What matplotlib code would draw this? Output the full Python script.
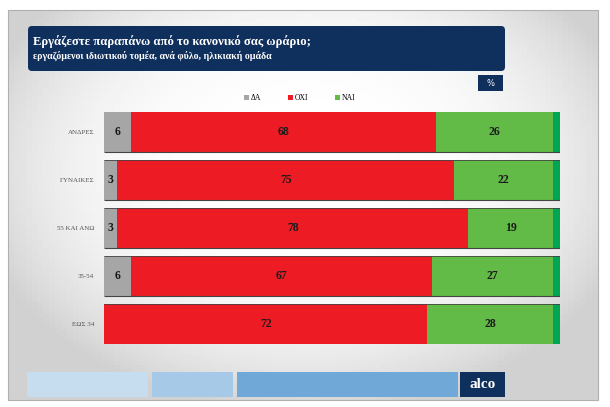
import numpy as np
import matplotlib
matplotlib.use("Agg")
import matplotlib.pyplot as plt
from matplotlib.patches import FancyBboxPatch, Rectangle

# data
groups = ["ΑΝΔΡΕΣ", "ΓΥΝΑΙΚΕΣ", "55 ΚΑΙ ΑΝΩ", "35-54", "ΕΩΣ 34"]
da = [6, 3, 3, 6, 0]
oxi = [68, 75, 78, 67, 72]
nai = [26, 22, 19, 27, 28]
series_names = ["ΔΑ", "ΟΧΙ", "ΝΑΙ"]
title = "Εργάζεστε παραπάνω από το κανονικό σας ωράριο;"
subtitle = "εργαζόμενοι ιδιωτικού τομέα, ανά φύλο, ηλικιακή ομάδα"

c_da = "#a6a6a6"
c_oxi = "#ed1c24"
c_nai = "#62bb46"
c_strip = "#00a651"
navy = "#0f2f5c"

W, H = 610, 407
fig = plt.figure(figsize=(W / 100, H / 100), dpi=100)
fig.patch.set_facecolor("white")

# background slide (pixel coordinates)
bg = fig.add_axes([0, 0, 1, 1])
bg.set_xlim(0, W)
bg.set_ylim(H, 0)
bg.axis("off")
yy, xx = np.mgrid[0:100, 0:100]
r = np.hypot((xx - 50) / 50, (yy - 40) / 55)
grad = np.clip(1 - 0.12 * r ** 3, 0.82, 1)
bg.imshow(grad, cmap="gray", vmin=0, vmax=1, extent=(8, 598, 400, 10),
          aspect="auto", zorder=0)
bg.add_patch(Rectangle((8, 10), 590, 390, fill=False, ec="#b0b0b0", lw=0.8, zorder=1))

# title banner
bg.add_patch(FancyBboxPatch((28, 26), 477, 45, boxstyle="round,pad=0,rounding_size=4",
                            fc=navy, ec="none", zorder=2))
bg.text(33, 42, title, color="white", fontsize=9.1, fontweight="bold",
        family="Liberation Serif", va="center", zorder=3)
bg.text(33, 55.5, subtitle, color="white", fontsize=7.1, fontweight="bold",
        family="Liberation Serif", va="center", zorder=3)

# % box
bg.add_patch(Rectangle((478, 75), 25, 16, fc=navy, ec="none", zorder=2))
bg.text(490.5, 83, "%", color="white", fontsize=6, ha="center", va="center", zorder=3)

# bottom band
bg.add_patch(Rectangle((27, 372), 121, 25, fc="#c6dcef", ec="none", zorder=2))
bg.add_patch(Rectangle((152, 372), 81, 25, fc="#a5c9e6", ec="none", zorder=2))
bg.add_patch(Rectangle((237, 372), 221, 25, fc="#70a9d7", ec="none", zorder=2))
bg.add_patch(Rectangle((460, 372), 45, 25, fc=navy, ec="none", zorder=2))
bg.text(482.5, 384, "alco", color="white", fontsize=11, fontweight="bold",
        family="Liberation Serif", ha="center", va="center", zorder=3)

# chart
ax = fig.add_axes([104 / W, 1 - 348 / H, 456 / W, 240 / H])
ax.set_facecolor("none")
y = np.arange(len(groups))
h = 0.84
da_a = np.array(da)
oxi_a = np.array(oxi)
nai_a = np.array(nai)
ax.barh(y, da_a, height=h, color=c_da, label=series_names[0])
ax.barh(y, oxi_a, left=da_a, height=h, color=c_oxi, label=series_names[1])
ax.barh(y, nai_a, left=da_a + oxi_a, height=h, color=c_nai, label=series_names[2])
ax.barh(y, 1.5, left=da_a + oxi_a + nai_a, height=h, color=c_strip)

# thin dark separators like the original
for i in range(len(groups) - 1):
    ax.hlines(i + h / 2, 0, 101.5, color="#444444", lw=0.8)
    ax.hlines(i + 1 - h / 2, 0, 101.5, color="#444444", lw=0.6)

for i in range(len(groups)):
    for left, val in [(0, da[i]), (da[i], oxi[i]), (da[i] + oxi[i], nai[i])]:
        if val > 0:
            ax.text(left + val / 2, i, str(val), ha="center", va="center",
                    fontsize=8.5, fontweight="bold", color="#1a1a1a",
                    family="Liberation Serif")

ax.set_xlim(0, 101.5)
ax.set_ylim(len(groups) - 0.5, -0.5)
ax.set_xticks([])
ax.set_yticks(y)
ax.set_yticklabels(groups, fontsize=5, color="#555555", family="Liberation Serif")
ax.tick_params(axis="y", length=0, pad=7)
for s in ax.spines.values():
    s.set_visible(False)

handles, labels = ax.get_legend_handles_labels()
fig.legend(handles[:3], labels[:3], loc="center", bbox_to_anchor=(300 / W, 1 - 98 / H),
           ncol=3, frameon=False, handlelength=0.6, handleheight=0.6,
           handletextpad=0.3, columnspacing=3.5, prop={"family": "Liberation Serif", "size": 5.5})

fig.savefig("out.png", dpi=100)
